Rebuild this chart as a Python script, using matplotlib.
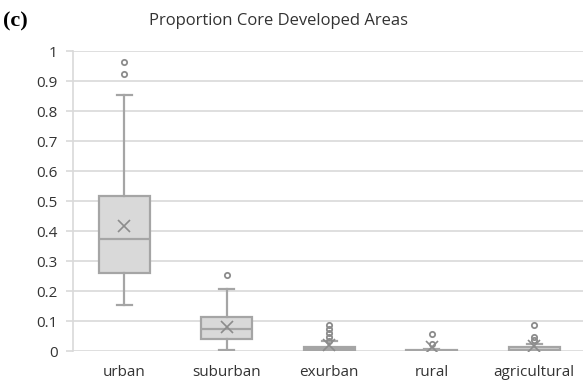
import matplotlib
matplotlib.use("Agg")
import matplotlib.pyplot as plt

categories = ["urban", "suburban", "exurban", "rural", "agricultural"]
q1 = [0.26, 0.040, 0.002, 0.000, 0.002]
median = [0.373, 0.073, 0.006, 0.001, 0.005]
q3 = [0.517, 0.114, 0.015, 0.004, 0.012]
whislo = [0.153, 0.002, 0.000, 0.000, 0.000]
whishi = [0.853, 0.207, 0.033, 0.008, 0.022]
means = [0.417, 0.081, 0.020, 0.012, 0.017]
fliers = [
    [0.962, 0.925],
    [0.253],
    [0.088, 0.074, 0.060, 0.047, 0.035],
    [0.057, 0.023],
    [0.088, 0.047, 0.036],
]
yticks = [0, 0.1, 0.2, 0.3, 0.4, 0.5, 0.6, 0.7, 0.8, 0.9, 1]
yticklabels = ["0", "0.1", "0.2", "0.3", "0.4", "0.5", "0.6", "0.7", "0.8", "0.9", "1"]

stats = []
for i, c in enumerate(categories):
    stats.append(dict(label=c, q1=q1[i], med=median[i], q3=q3[i],
                      whislo=whislo[i], whishi=whishi[i], mean=means[i],
                      fliers=fliers[i]))

fig = plt.figure(figsize=(5.83, 3.87), dpi=100)
ax = fig.add_axes([0.1252, 0.093, 0.8790, 0.775])

edge = "#a5a5a5"
ax.bxp(stats, positions=range(len(categories)), widths=0.5, patch_artist=True,
       showmeans=True,
       boxprops=dict(facecolor="#d9d9d9", edgecolor=edge, linewidth=1.6),
       medianprops=dict(color=edge, linewidth=1.6),
       whiskerprops=dict(color=edge, linewidth=1.6),
       capprops=dict(color=edge, linewidth=1.6),
       capwidths=0.15,
       meanprops=dict(marker="x", markeredgecolor="#8c8c8c", markersize=8,
                      markeredgewidth=1.2),
       flierprops=dict(marker="o", markerfacecolor="none", markeredgecolor="#8c8c8c",
                       markersize=3.8, markeredgewidth=1.3))

ax.set_xlim(-0.5, len(categories) - 0.5)
ax.set_ylim(0, 1)
ax.set_yticks(yticks)
ax.set_yticklabels(yticklabels)
ax.grid(axis="y", color="#d9d9d9", linewidth=1.2)
ax.set_axisbelow(True)
for s in ["top", "right", "bottom"]:
    ax.spines[s].set_visible(False)
ax.spines["left"].set_color("#d9d9d9")
ax.spines["left"].set_linewidth(1.2)
ax.tick_params(axis="y", length=5, color="#d9d9d9", width=1.2, pad=6,
               labelsize=11, labelcolor="#333333")
ax.tick_params(axis="x", length=0, pad=10, labelsize=11, labelcolor="#333333")
for lbl in ax.get_xticklabels() + ax.get_yticklabels():
    lbl.set_fontfamily("Open Sans")

fig.text(0.477, 0.945, "Proportion Core Developed Areas", ha="center", va="center",
         fontsize=12, color="#333333", fontfamily="Open Sans")
fig.text(0.006, 0.945, "(c)", ha="left", va="center", fontsize=16,
         fontweight="bold", fontfamily="Liberation Serif", color="black")

fig.savefig("out.png", dpi=100)
